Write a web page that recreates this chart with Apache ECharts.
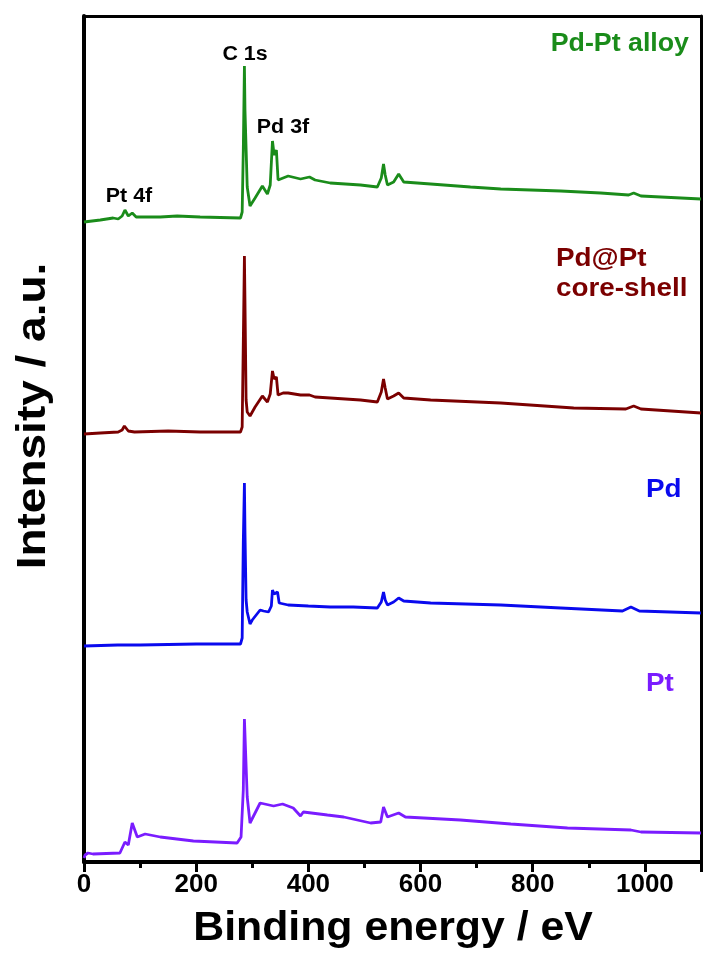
<!DOCTYPE html>
<html>
<head>
<meta charset="utf-8">
<script src="https://cdn.jsdelivr.net/npm/echarts@6/dist/echarts.min.js"></script>
<style>html,body{margin:0;padding:0;background:#fff}#c{width:704px;height:958px}</style>
</head>
<body>
<div id="c"></div>
<script>
// Binding energy (eV), intensity (a.u., offset stacked)
const xTicks = [0, 200, 400, 600, 800, 1000];
const seriesNames = ['Pd-Pt alloy', 'Pd@Pt core-shell', 'Pd', 'Pt'];

const alloy = [[0,640],[29,642],[52,644],[61,643],[68,646],[73,652],[79,646],[86,649],[93,645],[136,645],[166,646],[207,645],[279,644],[282,650],[284,712],[286,796],[287,752],[291,675],[296,656],[305,664],[318,676],[327,668],[332,677],[336,721],[339,707],[343,712],[346,682],[355,684],[364,686],[386,683],[402,685],[412,682],[439,679],[493,677],[523,675],[530,684],[534,698],[537,687],[541,677],[552,680],[561,688],[570,680],[618,678],[689,675],[743,673],[850,671],[921,669],[971,667],[980,669],[993,666],[1100,663]];

const coreShell = [[0,428],[29,429],[61,430],[68,432],[72,436],[79,431],[90,430],[150,431],[207,430],[279,430],[282,435],[284,520],[286,606],[287,560],[289,462],[291,450],[296,446],[305,455],[318,466],[327,460],[332,468],[336,491],[339,483],[343,485],[346,467],[355,469],[364,469],[386,467],[402,467],[412,465],[439,464],[493,462],[523,460],[530,470],[534,483],[537,474],[541,463],[552,466],[561,469],[570,464],[618,462],[743,459],[873,454],[966,453],[980,456],[993,453],[1100,449]];

const pd = [[0,216],[60,217],[100,217],[200,218],[279,218],[282,224],[284,320],[286,379],[287,330],[289,262],[291,250],[296,238],[300,242],[314,252],[320,251],[329,250],[334,256],[336,272],[339,268],[345,270],[348,259],[364,257],[400,256],[439,255],[480,255],[523,254],[530,260],[534,270],[537,262],[541,257],[552,260],[561,264],[570,261],[618,259],[743,257],[850,254],[960,251],[975,255],[990,251],[1100,249]];

const pt = [[0,4],[2,7],[7,9],[16,8],[64,9],[73,20],[79,17],[86,39],[95,25],[109,28],[136,25],[195,21],[273,19],[280,25],[284,72],[286,143],[289,142],[291,65],[296,39],[314,59],[338,56],[354,58],[373,54],[386,46],[391,50],[434,47],[463,45],[511,39],[529,40],[534,55],[541,45],[561,49],[573,45],[671,42],[761,38],[862,34],[975,32],[993,30],[1100,29]];

const colors = ['#1a8c1a', '#7b0000', '#0a0aee', '#7a1cff'];
const F = 'Liberation Sans, Arial, sans-serif';

const chart = echarts.init(document.getElementById('c'), null, {renderer: 'canvas'});
const mk = (name, data, color) => ({
  name, type: 'line', data, showSymbol: false, symbol: 'none',
  lineStyle: {color, width: 2.8}, itemStyle: {color}, silent: true, animation: false
});
const txt = (x, y, text, color, size, align, extra) => Object.assign({
  type: 'text', x, y, scaleX: 1.07,
  style: {text, fill: color, font: 'bold ' + size + 'px ' + F, textAlign: align || 'center', textVerticalAlign: 'middle'}
}, extra || {});

chart.setOption({
  animation: false,
  grid: {left: 84, right: 3, top: 16, bottom: 96, containLabel: false},
  xAxis: [{
    type: 'value', min: 0, max: 1100, interval: 200,
    axisLine: {show: true, lineStyle: {color: '#000', width: 4}},
    axisTick: {show: true, inside: false, length: 10, lineStyle: {color: '#000', width: 3}},
    minorTick: {show: true, splitNumber: 2, length: 6, lineStyle: {color: '#000', width: 3}},
    axisLabel: {margin: 10, fontFamily: F, fontWeight: 'bold', fontSize: 26, color: '#000',
      showMaxLabel: false, formatter: v => xTicks.includes(v) ? String(v) : ''},
    splitLine: {show: false}
  }, {
    type: 'value', position: 'top', min: 0, max: 1100,
    axisLine: {show: true, onZero: false, lineStyle: {color: '#000', width: 3}},
    axisTick: {show: false}, axisLabel: {show: false}, splitLine: {show: false}
  }],
  yAxis: [{
    type: 'value', min: 0, max: 846,
    axisLine: {show: true, lineStyle: {color: '#000', width: 4}},
    axisTick: {show: false}, axisLabel: {show: false}, splitLine: {show: false}
  }, {
    type: 'value', position: 'right', min: 0, max: 846,
    axisLine: {show: true, onZero: false, lineStyle: {color: '#000', width: 3}},
    axisTick: {show: false}, axisLabel: {show: false}, splitLine: {show: false}
  }],
  series: [
    mk(seriesNames[0], alloy, colors[0]),
    mk(seriesNames[1], coreShell, colors[1]),
    mk(seriesNames[2], pd, colors[2]),
    mk(seriesNames[3], pt, colors[3])
  ],
  graphic: [
    txt(393, 929, 'Binding energy / eV', '#000', 40),
    txt(34, 416, 'Intensity / a.u.', '#000', 40, 'center', {rotation: Math.PI / 2, scaleX: 1.15}),
    txt(245, 54, 'C 1s', '#000', 20),
    txt(283, 127, 'Pd 3f', '#000', 20),
    txt(129, 196, 'Pt 4f', '#000', 20),
    txt(689, 44, 'Pd-Pt alloy', colors[0], 25, 'right'),
    txt(556, 259, 'Pd@Pt', colors[1], 26, 'left'),
    txt(556, 289, 'core-shell', colors[1], 26, 'left'),
    txt(646, 490, 'Pd', colors[2], 26, 'left'),
    txt(646, 684, 'Pt', colors[3], 26, 'left')
  ]
});
</script>
</body>
</html>
